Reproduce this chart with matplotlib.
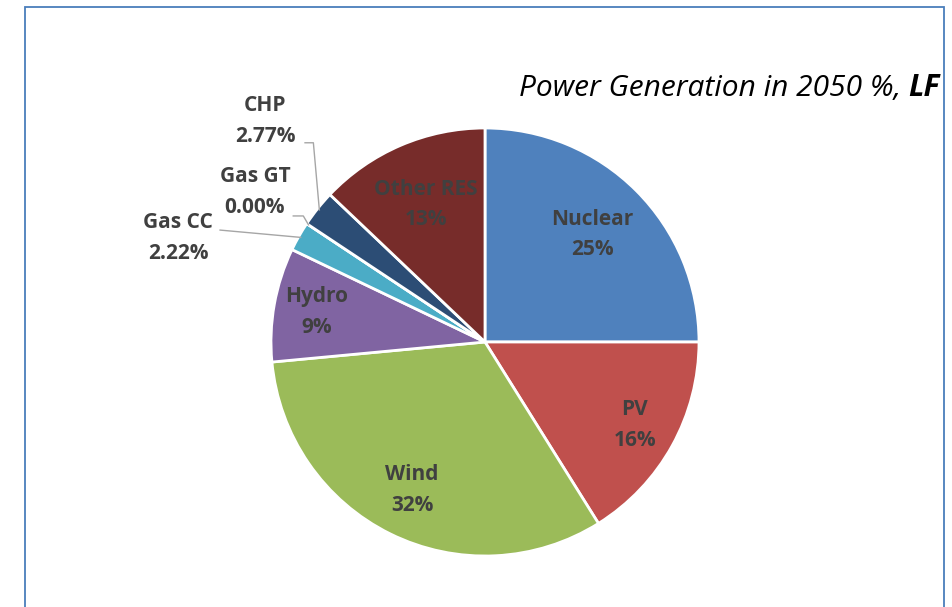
import numpy as np
import matplotlib
matplotlib.use('Agg')
import matplotlib.pyplot as plt
from matplotlib.patches import Rectangle

plt.rcParams['font.family'] = ['Open Sans', 'DejaVu Sans']

# shares of power generation in 2050 (%), clockwise from 12 o'clock
sources = ['Nuclear', 'PV', 'Wind', 'Hydro', 'Gas CC', 'Gas GT', 'CHP', 'Other RES']
shares = [25.0, 16.1, 32.4, 8.6, 2.22, 0.0, 2.77, 12.9]
labels = ['25%', '16%', '32%', '9%', '2.22%', '0.00%', '2.77%', '13%']
colors = ['#4F81BD', '#C0504D', '#9BBB59', '#8064A2', '#4BACC6',
          '#F79646', '#2C4D75', '#772C2A']

W, H = 953, 607
fig = plt.figure(figsize=(W / 100, H / 100), dpi=100)

# pie: centre (485, 342) px, radius 214 px
cx, cy, r = 485, 342, 214
ax = fig.add_axes([(cx - r) / W, (H - cy - r) / H, 2 * r / W, 2 * r / H])
wedges, _ = ax.pie(shares, colors=colors, startangle=90, counterclock=False,
                   wedgeprops=dict(edgecolor='white', linewidth=2))
ax.set_xlim(-1, 1)
ax.set_ylim(-1, 1)
ax.set_aspect('equal')
ax.axis('off')

txt = dict(fontsize=15, fontweight='bold', color='#404040',
           ha='center', va='center', linespacing=1.6)

# labels inside the big slices
inner = {'Nuclear': 0.71, 'PV': 0.80, 'Wind': 0.77, 'Hydro': 0.80, 'Other RES': 0.70}
for w, name, lab in zip(wedges, sources, labels):
    if name not in inner:
        continue
    a = np.deg2rad((w.theta1 + w.theta2) / 2)
    d = inner[name]
    ax.text(d * np.cos(a), d * np.sin(a), name + '\n' + lab, **txt)

# small slices: label outside with leader line (text pos, line path)
outer = {
    'Gas CC': ((-1.433, 0.486), [(-1.238, 0.523)]),
    'Gas GT': ((-1.075, 0.701), [(-0.896, 0.589), (-0.849, 0.589)]),
    'CHP': ((-1.028, 1.033), [(-0.841, 0.931), (-0.802, 0.931)]),
}
for w, name, lab in zip(wedges, sources, labels):
    if name not in outer:
        continue
    pos, path = outer[name]
    ax.text(pos[0], pos[1], name + '\n' + lab, **txt)
    a = np.deg2rad((w.theta1 + w.theta2) / 2)
    pts = path + [(0.99 * np.cos(a), 0.99 * np.sin(a))]
    xs, ys = zip(*pts)
    ax.plot(xs, ys, color='#A6A6A6', lw=1.0, clip_on=False)

# title: italic part + bold italic "LF", right aligned at x=940 px
ty = 1 - 88 / H
t2 = fig.text(940 / W, ty, 'LF', fontsize=21.5, style='italic', fontweight='bold',
              ha='right', va='center', color='black')
fig.canvas.draw()
bb = t2.get_window_extent()
fig.text((bb.x0 - 8) / W, ty, 'Power Generation in 2050 %,', fontsize=21.5,
         style='italic', ha='right', va='center', color='black')

# chart frame
fig.patches.append(Rectangle((25 / W, -0.05), (944 - 25) / W, (H - 7) / H + 0.05,
                             transform=fig.transFigure, fill=False,
                             edgecolor='#4A7EBB', lw=1.3))

fig.savefig('out.png', dpi=100)
